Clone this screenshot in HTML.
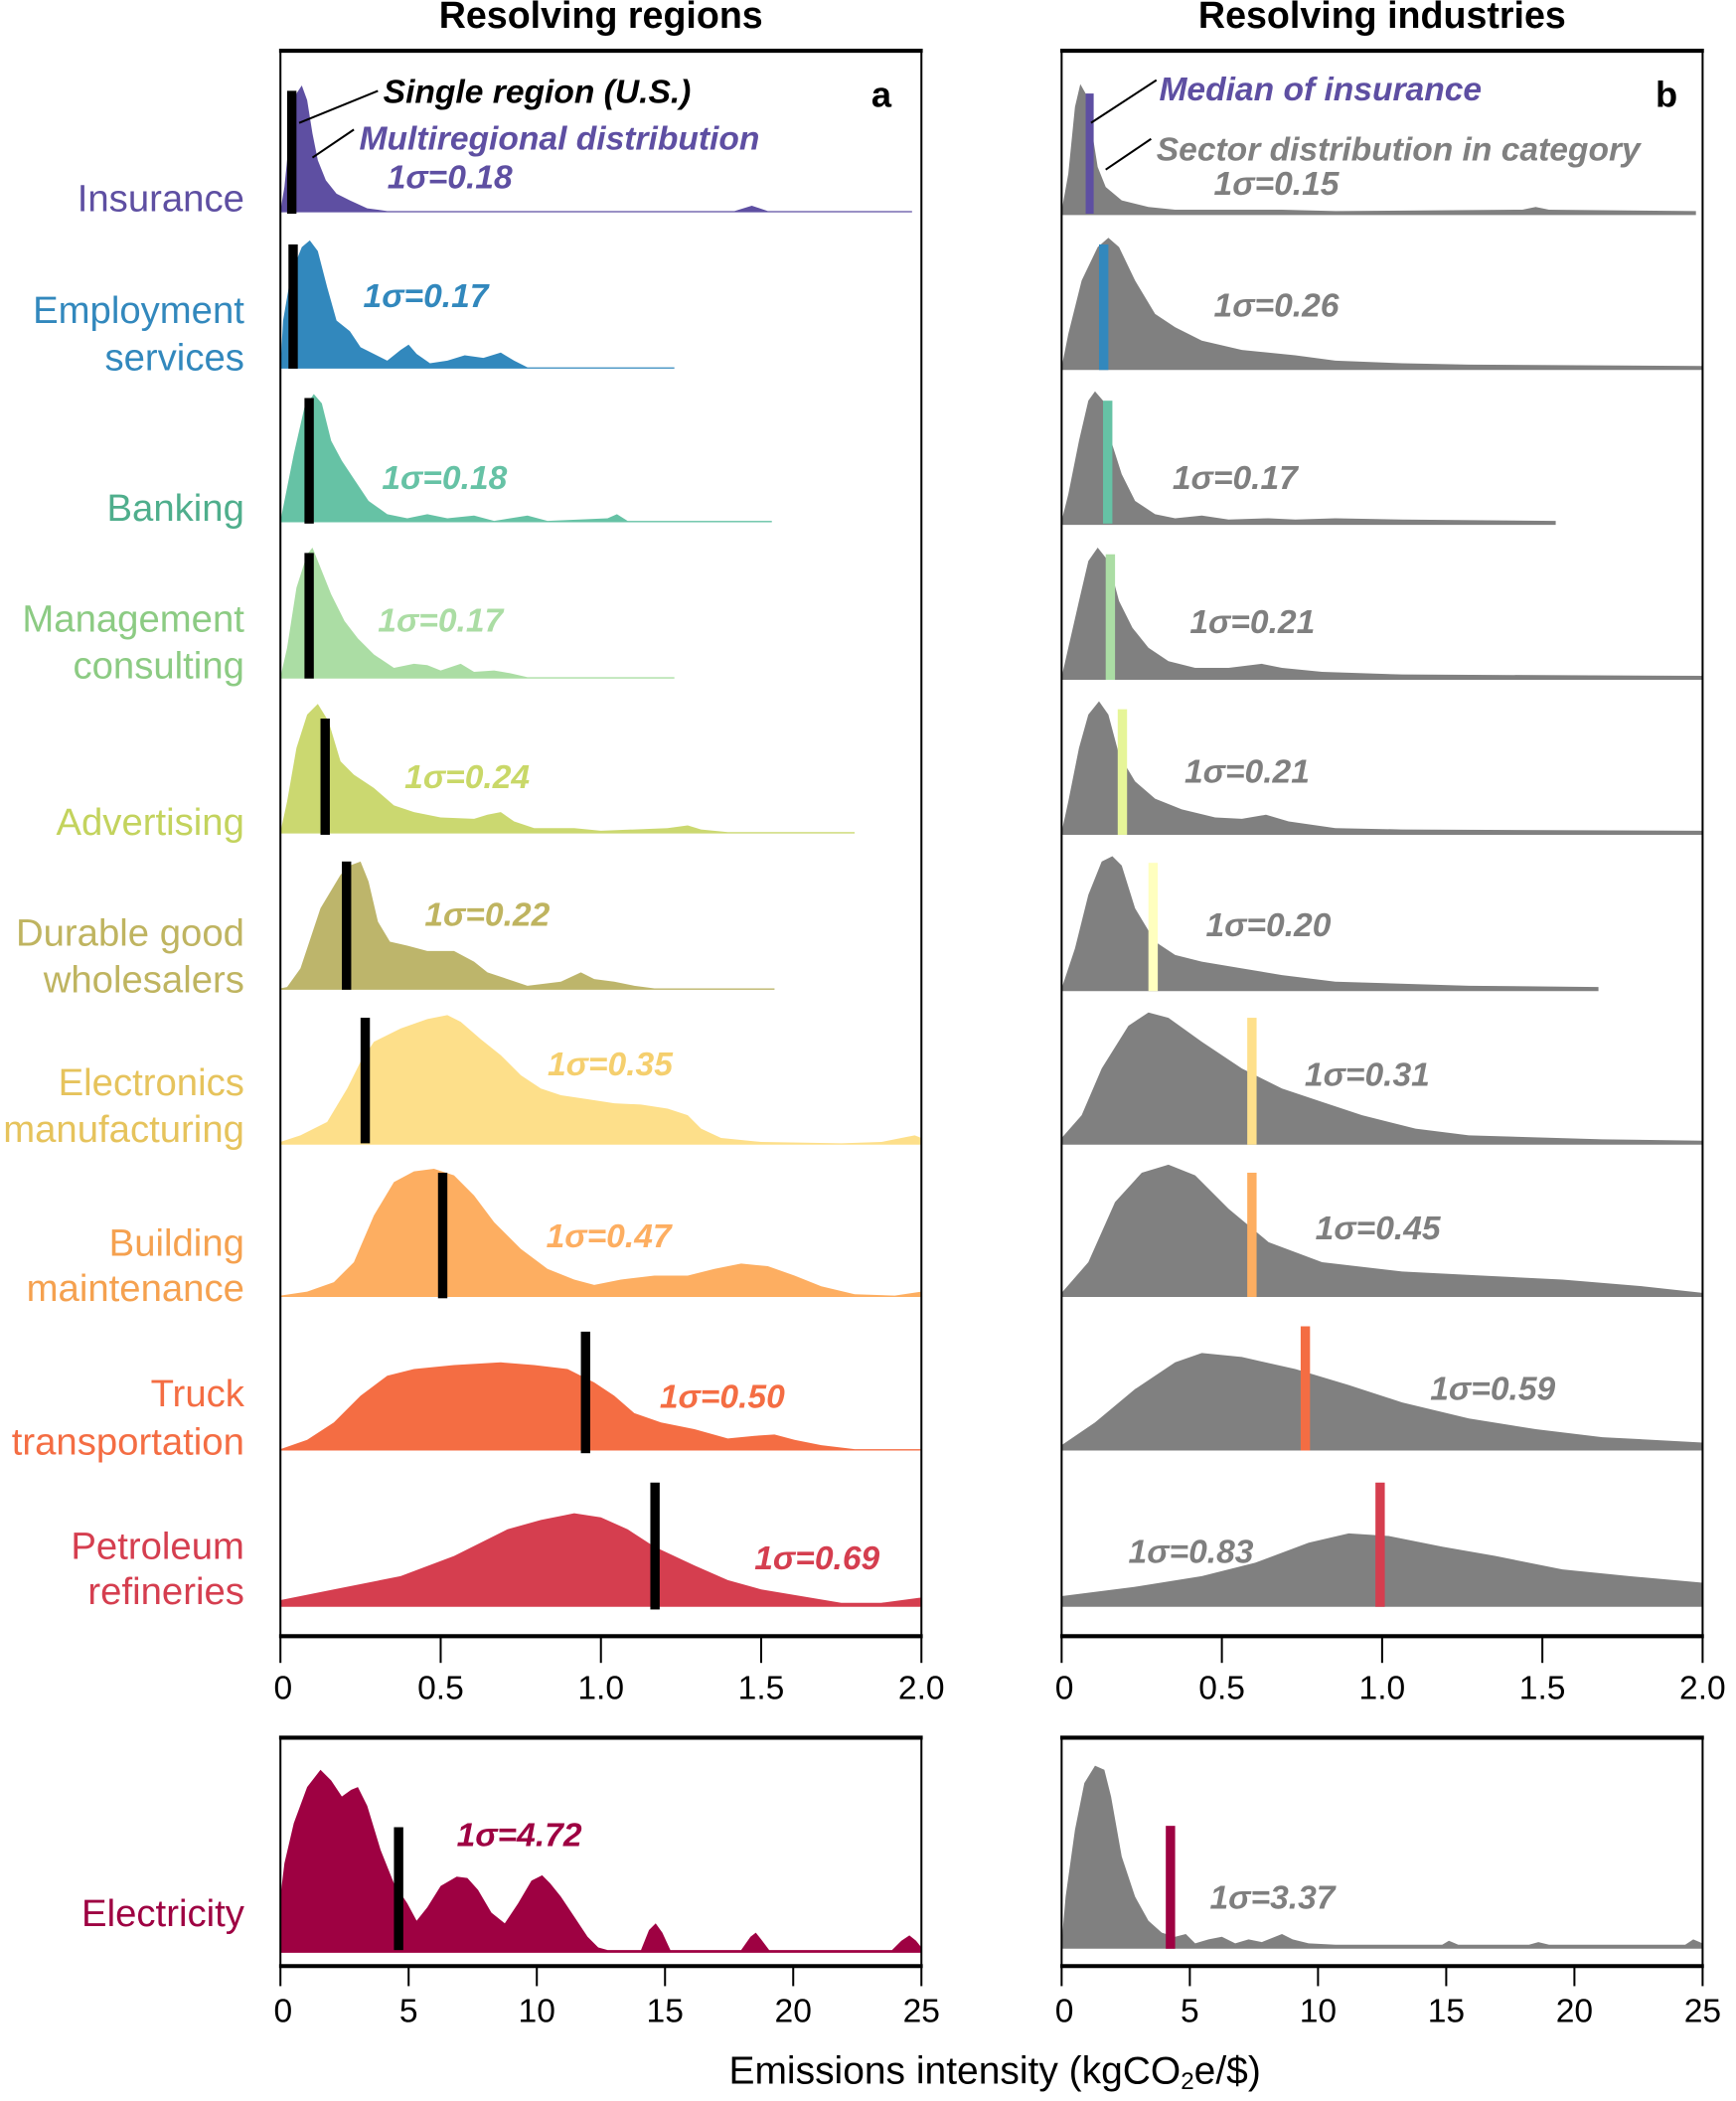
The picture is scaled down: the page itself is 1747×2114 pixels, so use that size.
<!DOCTYPE html>
<html><head><meta charset="utf-8"><style>
html,body{margin:0;padding:0;background:#fff}
svg{display:block}
text{font-family:"Liberation Sans",Arial,sans-serif}
.cat{font-size:28.5px;text-anchor:end}
.sg{font-size:25px;font-weight:bold;font-style:italic}
.tk{font-size:25px;text-anchor:middle}
</style></head><body>
<svg width="1747" height="2114" viewBox="0 0 1300 1573" preserveAspectRatio="none" xmlns="http://www.w3.org/2000/svg">
<rect width="1300" height="1573" fill="#fff"/>
<text x="450" y="21" font-size="28" font-weight="bold" text-anchor="middle">Resolving regions</text>
<text x="1035" y="21" font-size="28" font-weight="bold" text-anchor="middle">Resolving industries</text>

<!-- LEFT distributions -->
<path fill="#5e4fa2" d="M210,158 L213,140 L218,90 L222,70 L226,64 L230,75 L234,100 L238,120 L244,135 L252,145 L262,150 L275,156 L290,158 L550,158 L563,154 L575,158 L683,158 L683,159 L210,159Z"/>
<path fill="#3288bd" d="M210,275 L212,240 L218,205 L226,185 L232,180 L238,188 L245,215 L252,240 L262,248 L270,260 L280,265 L290,270 L300,262 L306,258 L312,265 L322,272 L335,270 L348,266 L362,268 L375,264 L385,270 L395,275 L505,275 L505,276 L210,276Z"/>
<path fill="#66c2a5" d="M210,390 L214,370 L220,340 L228,305 L235,295 L241,302 L248,330 L256,345 L266,360 L276,375 L290,385 L305,388 L320,385 L335,388 L355,386 L370,390 L395,386 L410,390 L455,388 L462,385 L470,390 L578,390 L578,391 L210,391Z"/>
<path fill="#abdda4" d="M210,507 L215,485 L222,440 L230,415 L234,410 L240,425 L248,445 L258,465 L268,478 L280,490 L295,500 L310,497 L320,498 L330,502 L345,497 L355,503 L370,502 L382,504 L395,507 L505,507 L505,508 L210,508Z"/>
<path fill="#cbd870" d="M210,623 L215,600 L222,560 L230,535 L238,527 L246,540 L255,570 L265,580 L280,590 L295,603 L310,608 L330,612 L355,613 L365,610 L375,608 L385,615 L400,620 L430,620 L450,622 L500,620 L515,618 L525,621 L545,623 L640,623 L640,624 L210,624Z"/>
<path fill="#bdb56b" d="M210,740 L215,739 L225,725 L240,680 L255,655 L262,648 L270,645 L276,660 L283,690 L292,705 L305,708 L320,712 L340,712 L355,720 L365,728 L380,733 L395,738 L420,735 L435,728 L445,733 L460,735 L475,738 L490,740 L580,740 L580,741 L210,741Z"/>
<path fill="#fddf8a" d="M210,855 L225,850 L245,840 L260,815 L270,795 L280,780 L300,770 L320,763 L335,760 L345,765 L360,778 L375,790 L390,805 L405,815 L420,820 L440,823 L460,826 L480,827 L500,830 L515,835 L525,845 L540,852 L570,855 L630,856 L660,855 L675,852 L685,850 L690,852 L690,857 L210,857Z"/>
<path fill="#fdae61" d="M210,970 L230,967 L250,960 L265,945 L280,910 L295,885 L310,877 L325,875 L340,880 L355,895 L370,915 L390,935 L410,950 L430,958 L445,962 L465,958 L490,955 L515,955 L535,950 L555,946 L575,948 L595,955 L615,963 L640,969 L670,970 L690,967 L690,971 L210,971Z"/>
<path fill="#f46d43" d="M210,1085 L230,1078 L250,1065 L270,1045 L290,1030 L310,1025 L340,1022 L375,1020 L400,1022 L425,1025 L445,1035 L460,1045 L475,1058 L495,1065 L520,1070 L545,1077 L565,1075 L580,1074 L595,1078 L615,1082 L640,1085 L690,1085 L690,1086 L210,1086Z"/>
<path fill="#d53e4f" d="M210,1198 L250,1190 L300,1180 L340,1165 L380,1145 L405,1138 L430,1133 L450,1136 L470,1145 L490,1158 L520,1172 L545,1183 L570,1190 L600,1195 L630,1200 L660,1200 L690,1196 L690,1203 L210,1203Z"/>
<g fill="#000">
<rect x="215" y="68" width="7" height="92"/>
<rect x="216" y="183" width="7" height="93"/>
<rect x="228" y="298" width="7" height="94"/>
<rect x="228" y="414" width="7" height="94"/>
<rect x="240" y="538" width="7" height="87"/>
<rect x="256" y="645" width="7" height="96"/>
<rect x="270" y="762" width="7" height="94"/>
<rect x="328" y="878" width="7" height="94"/>
<rect x="435" y="997" width="7" height="91"/>
<rect x="487" y="1110" width="7" height="95"/>
</g>

<!-- RIGHT distributions -->
<g fill="#808080">
<path d="M795,158 L800,130 L805,80 L809,63 L813,70 L818,100 L822,125 L828,140 L840,150 L860,155 L880,157 L960,157 L1000,158 L1140,157 L1150,155 L1160,157 L1270,158 L1270,161 L795,161Z"/>
<path d="M795,275 L800,250 L810,210 L822,185 L830,178 L838,185 L850,210 L865,235 L880,245 L900,255 L930,262 L970,266 L1000,270 L1050,272 L1100,273 L1275,274 L1275,277 L795,277Z"/>
<path d="M795,390 L800,370 L808,330 L815,300 L820,293 L826,300 L832,330 L840,355 L850,375 L865,385 L880,388 L900,386 L920,389 L950,388 L970,389 L1000,388 L1050,389 L1165,390 L1165,393 L795,393Z"/>
<path d="M795,507 L800,485 L808,450 L815,420 L822,410 L830,420 L838,450 L848,470 L860,485 L875,495 L895,500 L920,500 L945,497 L960,500 L990,503 L1050,505 L1275,506 L1275,509 L795,509Z"/>
<path d="M795,623 L800,600 L808,560 L815,535 L823,525 L830,535 L838,565 L850,585 L865,598 L885,606 L910,612 L930,613 L948,610 L965,615 L1000,620 L1050,621 L1275,622 L1275,625 L795,625Z"/>
<path d="M795,740 L805,710 L815,670 L825,645 L833,641 L840,648 L850,680 L865,705 L880,715 L900,720 L930,725 L960,730 L1000,735 L1100,738 L1197,739 L1197,742 L795,742Z"/>
<path d="M795,852 L810,835 L825,800 L845,768 L860,758 L875,762 L900,780 L930,800 L960,815 L990,825 L1020,835 L1060,845 L1100,850 L1200,853 L1275,854 L1275,857 L795,857Z"/>
<path d="M795,968 L815,945 L835,900 L855,878 L875,872 L895,880 L920,905 L950,930 L990,945 L1050,952 L1110,955 L1170,958 L1230,963 L1275,968 L1275,971 L795,971Z"/>
<path d="M795,1082 L820,1065 L850,1040 L880,1020 L900,1013 L930,1016 L970,1025 L1010,1037 L1050,1050 L1100,1062 L1150,1070 L1200,1076 L1275,1080 L1275,1086 L795,1086Z"/>
<path d="M795,1195 L850,1188 L900,1180 L940,1170 L980,1155 L1010,1148 L1040,1150 L1080,1158 L1120,1165 L1170,1175 L1220,1180 L1275,1185 L1275,1203 L795,1203Z"/>
<path d="M795,1455 L798,1420 L805,1370 L812,1335 L820,1322 L827,1325 L832,1345 L840,1390 L850,1420 L860,1438 L870,1447 L880,1450 L888,1448 L895,1455 L905,1452 L915,1450 L925,1455 L935,1452 L945,1454 L960,1448 L968,1452 L980,1455 L1000,1456 L1080,1456 L1085,1453 L1092,1456 L1145,1456 L1152,1454 L1160,1456 L1262,1456 L1268,1452 L1275,1455 L1275,1459 L795,1459Z"/>
</g>
<rect x="813" y="70" width="6" height="90" fill="#5e4fa2"/>
<rect x="823" y="183" width="7" height="94" fill="#3288bd"/>
<rect x="826" y="300" width="7" height="92" fill="#66c2a5"/>
<rect x="828" y="415" width="7" height="94" fill="#abdda4"/>
<rect x="837" y="531" width="7" height="94" fill="#e6f598"/>
<rect x="860" y="646" width="7" height="96" fill="#ffffbf"/>
<rect x="934" y="762" width="7" height="95" fill="#fee08b"/>
<rect x="934" y="878" width="7" height="93" fill="#fdae61"/>
<rect x="974" y="993" width="7" height="93" fill="#f46d43"/>
<rect x="1030" y="1110" width="7" height="93" fill="#d53e4f"/>
<rect x="873" y="1367" width="7" height="92" fill="#9e0142"/>

<!-- Electricity left -->
<path fill="#9e0142" d="M210,1460 L210,1420 L213,1395 L220,1365 L230,1338 L240,1325 L248,1333 L256,1345 L263,1340 L268,1338 L275,1352 L285,1385 L295,1410 L305,1425 L312,1438 L320,1428 L330,1412 L342,1405 L350,1406 L358,1415 L368,1432 L378,1440 L388,1425 L398,1408 L406,1404 L412,1410 L420,1420 L430,1435 L440,1450 L448,1458 L455,1460 L480,1460 L486,1445 L491,1440 L496,1447 L502,1460 L555,1460 L562,1450 L566,1447 L570,1452 L576,1460 L668,1460 L675,1453 L681,1449 L686,1453 L690,1458 L690,1462 L210,1462Z"/>
<rect x="295" y="1368" width="7" height="92" fill="#000"/>

<!-- frames -->
<g stroke="#000" fill="none">
<line x1="210" y1="37" x2="210" y2="1226" stroke-width="1.5"/>
<line x1="690" y1="37" x2="690" y2="1226" stroke-width="1.5"/>
<line x1="209" y1="38" x2="691" y2="38" stroke-width="3"/>
<line x1="209" y1="1225" x2="691" y2="1225" stroke-width="3"/>
<line x1="795" y1="37" x2="795" y2="1226" stroke-width="1.5"/>
<line x1="1275" y1="37" x2="1275" y2="1226" stroke-width="1.5"/>
<line x1="794" y1="38" x2="1276" y2="38" stroke-width="3"/>
<line x1="794" y1="1225" x2="1276" y2="1225" stroke-width="3"/>
<line x1="210" y1="1300" x2="210" y2="1473" stroke-width="1.5"/>
<line x1="690" y1="1300" x2="690" y2="1473" stroke-width="1.5"/>
<line x1="209" y1="1301" x2="691" y2="1301" stroke-width="3"/>
<line x1="209" y1="1472" x2="691" y2="1472" stroke-width="3"/>
<line x1="795" y1="1300" x2="795" y2="1473" stroke-width="1.5"/>
<line x1="1275" y1="1300" x2="1275" y2="1473" stroke-width="1.5"/>
<line x1="794" y1="1301" x2="1276" y2="1301" stroke-width="3"/>
<line x1="794" y1="1472" x2="1276" y2="1472" stroke-width="3"/>
</g>
<g stroke="#000" stroke-width="1.5">
<line x1="210" y1="1225" x2="210" y2="1245"/><line x1="330" y1="1225" x2="330" y2="1245"/><line x1="450" y1="1225" x2="450" y2="1245"/><line x1="570" y1="1225" x2="570" y2="1245"/><line x1="690" y1="1225" x2="690" y2="1245"/>
<line x1="795" y1="1225" x2="795" y2="1245"/><line x1="915" y1="1225" x2="915" y2="1245"/><line x1="1035" y1="1225" x2="1035" y2="1245"/><line x1="1155" y1="1225" x2="1155" y2="1245"/><line x1="1275" y1="1225" x2="1275" y2="1245"/>
<line x1="210" y1="1472" x2="210" y2="1487"/><line x1="306" y1="1472" x2="306" y2="1487"/><line x1="402" y1="1472" x2="402" y2="1487"/><line x1="498" y1="1472" x2="498" y2="1487"/><line x1="594" y1="1472" x2="594" y2="1487"/><line x1="690" y1="1472" x2="690" y2="1487"/>
<line x1="795" y1="1472" x2="795" y2="1487"/><line x1="891" y1="1472" x2="891" y2="1487"/><line x1="987" y1="1472" x2="987" y2="1487"/><line x1="1083" y1="1472" x2="1083" y2="1487"/><line x1="1179" y1="1472" x2="1179" y2="1487"/><line x1="1275" y1="1472" x2="1275" y2="1487"/>
</g>
<g class="tk">
<text x="212" y="1272" class="tk">0</text><text x="330" y="1272" class="tk">0.5</text><text x="450" y="1272" class="tk">1.0</text><text x="570" y="1272" class="tk">1.5</text><text x="690" y="1272" class="tk">2.0</text>
<text x="797" y="1272" class="tk">0</text><text x="915" y="1272" class="tk">0.5</text><text x="1035" y="1272" class="tk">1.0</text><text x="1155" y="1272" class="tk">1.5</text><text x="1275" y="1272" class="tk">2.0</text>
<text x="212" y="1514" class="tk">0</text><text x="306" y="1514" class="tk">5</text><text x="402" y="1514" class="tk">10</text><text x="498" y="1514" class="tk">15</text><text x="594" y="1514" class="tk">20</text><text x="690" y="1514" class="tk">25</text>
<text x="797" y="1514" class="tk">0</text><text x="891" y="1514" class="tk">5</text><text x="987" y="1514" class="tk">10</text><text x="1083" y="1514" class="tk">15</text><text x="1179" y="1514" class="tk">20</text><text x="1275" y="1514" class="tk">25</text>
</g>
<text x="745" y="1560" font-size="29" text-anchor="middle">Emissions intensity (kgCO<tspan font-size="18" dy="4">2</tspan><tspan dy="-4">e/$)</tspan></text>

<!-- category labels -->
<text class="cat" x="183" y="158" fill="#5e4fa2">Insurance</text>
<text class="cat" x="183" y="242" fill="#3288bd">Employment</text>
<text class="cat" x="183" y="277" fill="#3288bd">services</text>
<text class="cat" x="183" y="390" fill="#4fae8c">Banking</text>
<text class="cat" x="183" y="473" fill="#8ccb83">Management</text>
<text class="cat" x="183" y="508" fill="#8ccb83">consulting</text>
<text class="cat" x="183" y="625" fill="#c3d35d">Advertising</text>
<text class="cat" x="183" y="708" fill="#bfb460">Durable good</text>
<text class="cat" x="183" y="743" fill="#bfb460">wholesalers</text>
<text class="cat" x="183" y="820" fill="#e6c35c">Electronics</text>
<text class="cat" x="183" y="855" fill="#e6c35c">manufacturing</text>
<text class="cat" x="183" y="940" fill="#f5a14f">Building</text>
<text class="cat" x="183" y="974" fill="#f5a14f">maintenance</text>
<text class="cat" x="183" y="1053" fill="#f46d43">Truck</text>
<text class="cat" x="183" y="1089" fill="#f46d43">transportation</text>
<text class="cat" x="183" y="1167" fill="#d53e4f">Petroleum</text>
<text class="cat" x="183" y="1201" fill="#d53e4f">refineries</text>
<text class="cat" x="183" y="1442" fill="#9e0142">Electricity</text>

<!-- annotations -->
<text x="660" y="80" font-size="27" font-weight="bold" text-anchor="middle">a</text>
<text x="1248" y="80" font-size="27" font-weight="bold" text-anchor="middle">b</text>
<line x1="224" y1="92" x2="283" y2="68" stroke="#000" stroke-width="1.5"/>
<line x1="234" y1="118" x2="265" y2="97" stroke="#000" stroke-width="1.5"/>
<text x="287" y="77" class="sg">Single region (U.S.)</text>
<text x="269" y="112" class="sg" fill="#5e4fa2">Multiregional distribution</text>
<line x1="817" y1="92" x2="866" y2="60" stroke="#000" stroke-width="1.5"/>
<line x1="828" y1="127" x2="862" y2="104" stroke="#000" stroke-width="1.5"/>
<text x="868" y="75" class="sg" fill="#5e4fa2">Median of insurance</text>
<text x="866" y="120" class="sg" fill="#808080">Sector distribution in category</text>

<text class="sg" x="290" y="141" fill="#5e4fa2">1σ=0.18</text>
<text class="sg" x="272" y="230" fill="#3288bd">1σ=0.17</text>
<text class="sg" x="286" y="366" fill="#66c2a5">1σ=0.18</text>
<text class="sg" x="283" y="473" fill="#abdda4">1σ=0.17</text>
<text class="sg" x="303" y="590" fill="#c9d868">1σ=0.24</text>
<text class="sg" x="318" y="693" fill="#bfb460">1σ=0.22</text>
<text class="sg" x="410" y="805" fill="#f5cf6e">1σ=0.35</text>
<text class="sg" x="409" y="934" fill="#fdae61">1σ=0.47</text>
<text class="sg" x="494" y="1054" fill="#f46d43">1σ=0.50</text>
<text class="sg" x="565" y="1175" fill="#d53e4f">1σ=0.69</text>
<text class="sg" x="342" y="1382" fill="#9e0142">1σ=4.72</text>
<g fill="#7f7f7f">
<text class="sg" x="909" y="146">1σ=0.15</text>
<text class="sg" x="909" y="237">1σ=0.26</text>
<text class="sg" x="878" y="366">1σ=0.17</text>
<text class="sg" x="891" y="474">1σ=0.21</text>
<text class="sg" x="887" y="586">1σ=0.21</text>
<text class="sg" x="903" y="701">1σ=0.20</text>
<text class="sg" x="977" y="813">1σ=0.31</text>
<text class="sg" x="985" y="928">1σ=0.45</text>
<text class="sg" x="1071" y="1048">1σ=0.59</text>
<text class="sg" x="845" y="1170">1σ=0.83</text>
<text class="sg" x="906" y="1429">1σ=3.37</text>
</g>
</svg>
</body></html>
